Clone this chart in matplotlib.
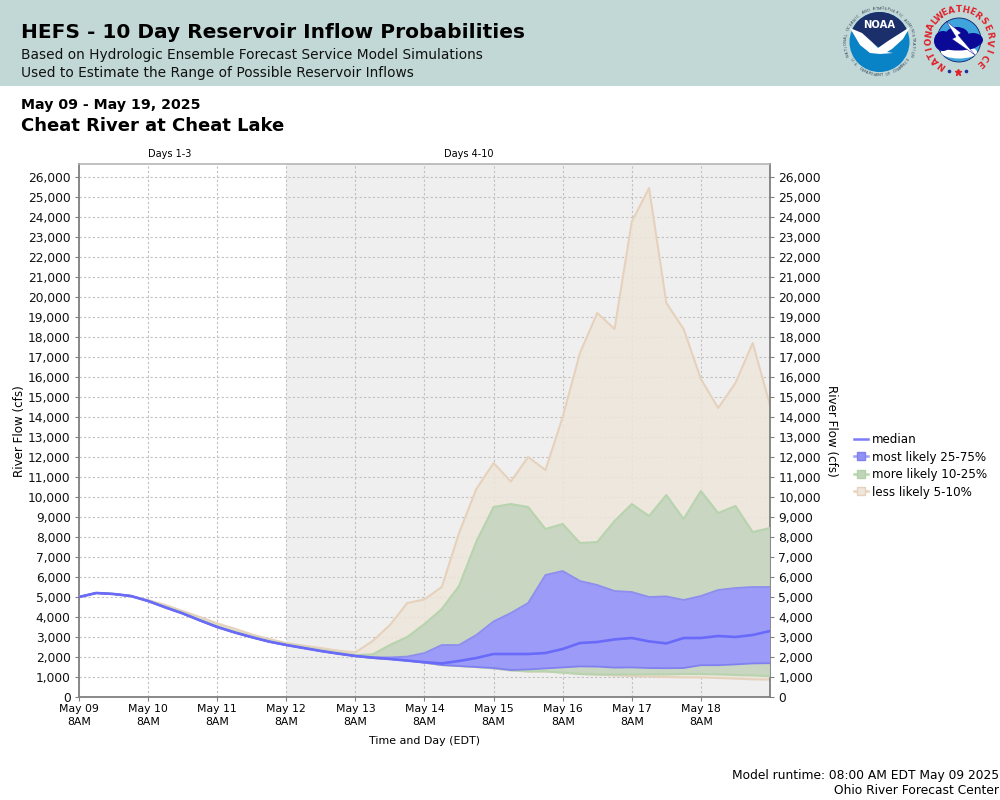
import numpy as np
import matplotlib
matplotlib.use("Agg")
import matplotlib.pyplot as plt
from matplotlib.lines import Line2D
from matplotlib.patches import Circle, Polygon, Rectangle, Ellipse

plt.rcParams['font.family'] = ['DejaVu Sans']

days = ["May 09", "May 10", "May 11", "May 12", "May 13", "May 14", "May 15", "May 16", "May 17", "May 18"]
hours = list(range(0, 241, 6))
yticks = list(range(0, 26001, 1000))

median = [5000, 5200, 5150, 5050, 4800, 4480, 4180, 3830, 3500, 3230, 2990, 2770, 2600, 2450, 2300, 2170, 2050,
          1970, 1900, 1820, 1740, 1680, 1720, 1820, 2150, 2150, 2150, 2200, 2400, 2700, 2750, 2880, 2950, 2780, 2680,
          2950, 2950, 3050, 3000, 3100, 3300]
median[22] = 1800
median[23] = 1950
q75 = median[:17] + [1980, 1980, 2020, 2200, 2600, 2600, 3100, 3780, 4200, 4700, 6100, 6300, 5800, 5600, 5300, 5250,
                     5000, 5030, 4850, 5050, 5350, 5450, 5500, 5500]
q25 = median[:17] + [1950, 1900, 1820, 1720, 1600, 1550, 1500, 1450, 1350, 1380, 1430, 1480, 1530, 1520, 1470, 1480,
                     1450, 1440, 1450, 1590, 1590, 1630, 1680, 1690]
q90 = [5000, 5200, 5150, 5050, 4820, 4520, 4220, 3880, 3550, 3280, 3030, 2810, 2630, 2490, 2350, 2220, 2100,
       2130, 2600, 3000, 3650, 4400, 5550, 7770, 9500, 9650, 9500, 8400, 8650, 7700, 7750, 8800, 9650, 9050, 10100,
       8900, 10300, 9200, 9550, 8250, 8450]
q10 = median[:17] + [1950, 1900, 1820, 1720, 1600, 1550, 1500, 1430, 1330, 1280, 1280, 1220, 1150, 1130, 1120, 1130,
                     1130, 1130, 1150, 1150, 1130, 1100, 1080, 1040]
q95 = [5000, 5200, 5150, 5050, 4850, 4600, 4300, 4000, 3680, 3420, 3130, 2900, 2700, 2570, 2450, 2320, 2230,
       2800, 3600, 4700, 4880, 5500, 8200, 10400, 11700, 10770, 12000, 11350, 14000, 17200, 19200, 18400, 23770, 25450,
       19700, 18400, 15900, 14450, 15700, 17700, 14600]
q05 = median[:17] + [1950, 1900, 1820, 1720, 1600, 1550, 1500, 1430, 1330, 1280, 1280, 1220, 1150, 1110, 1080, 1050,
                     1020, 1000, 980, 980, 950, 920, 880, 870]

W, H = 1000, 800
fig = plt.figure(figsize=(10, 8), dpi=100, facecolor='white')


def fx(px):
    return px / W


def fy(py):
    return 1 - py / H


# header band
fig.patches.append(Rectangle((0, fy(86)), 1, 86 / H, transform=fig.transFigure, fc='#C2D8D6', ec='none', zorder=-1))
fig.text(fx(21), fy(33), "HEFS - 10 Day Reservoir Inflow Probabilities", fontsize=14.5, fontweight='bold', va='center', color='black')
fig.text(fx(21), fy(54.5), "Based on Hydrologic Ensemble Forecast Service Model Simulations", fontsize=9.9, va='center', color='#111111')
fig.text(fx(21), fy(73), "Used to Estimate the Range of Possible Reservoir Inflows", fontsize=9.9, va='center', color='#111111')
fig.text(fx(21), fy(105.5), "May 09 - May 19, 2025", fontsize=10.15, fontweight='bold', va='center')
fig.text(fx(21), fy(126), "Cheat River at Cheat Lake", fontsize=12.95, fontweight='bold', va='center')
fig.text(fx(169.5), fy(154), "Days 1-3", fontsize=7.0, ha='center', va='center')
fig.text(fx(468.5), fy(154), "Days 4-10", fontsize=7.0, ha='center', va='center')

# main chart
ax = fig.add_axes([fx(79), fy(697), (770 - 79) / W, (697 - 164) / H])
ax.set_xlim(0, 240)
ax.set_ylim(0, 26650)
ax.axvspan(72, 240, color='#EFEFEF', lw=0, zorder=0)
ax.set_axisbelow(True)
ax.grid(True, color='#C0C0C0', ls=(0, (2, 2)), lw=0.8, zorder=1)

TAN, GREEN, BLUE = '#E6D2BC', '#B8D4AE', '#6C6CFF'
x = np.array(hours)
ax.fill_between(x, q05, q95, facecolor='#EEE6DB', alpha=0.88, lw=0, zorder=2)
ax.plot(x, q95, color=TAN, lw=1.5, zorder=2.1)
ax.plot(x, q05, color=TAN, lw=1.5, zorder=2.1)
ax.fill_between(x, q10, q90, facecolor='#C6D6C1', alpha=0.95, lw=0, zorder=3)
ax.plot(x, q90, color=GREEN, lw=1.5, zorder=3.1)
ax.plot(x, q10, color=GREEN, lw=1.5, zorder=3.1)
ax.fill_between(x, q25, q75, facecolor='#9C9CF8', alpha=1, lw=0, zorder=4)
ax.plot(x, q75, color='#8E8EEE', lw=1.3, zorder=4.1)
ax.plot(x, q25, color='#8080F0', lw=1.3, zorder=4.1)
ax.plot(x, median, color='#6A6AFA', lw=1.9, zorder=5)

ax.set_yticks(yticks)
ax.set_yticklabels([f"{v:,}" for v in yticks], fontsize=8.85, color='#111111')
ax.set_xticks(list(range(0, 240, 24)))
ax.set_xticklabels([f"{d}\n8AM" for d in days], fontsize=7.8, linespacing=1.35)
ax.tick_params(axis='y', length=3, width=0.8, color='#808080', pad=3)
ax.tick_params(axis='x', length=3, width=0.8, color='#808080', pad=2)
ax.set_xlabel("Time and Day (EDT)", fontsize=7.9, labelpad=0)
ax.xaxis.set_label_coords((425 - 79) / 691, -(736 - 697) / 533, transform=ax.transAxes)
ax.set_ylabel("River Flow (cfs)", fontsize=8.6)
ax.yaxis.set_label_coords((26 - 79) / 691, (697 - 431) / 533, transform=ax.transAxes)
for s in ('left', 'right', 'bottom'):
    ax.spines[s].set_color('#808080')
    ax.spines[s].set_linewidth(1.3)
ax.spines['top'].set_color('#B0B0B0')
ax.spines['top'].set_linewidth(1.1)

ax2 = ax.twinx()
ax2.set_ylim(ax.get_ylim())
ax2.set_yticks(yticks)
ax2.set_yticklabels([f"{v:,}" for v in yticks], fontsize=8.85, color='#111111')
ax2.tick_params(axis='y', length=3, width=0.8, color='#808080', pad=3)
ax2.set_ylabel("River Flow (cfs)", fontsize=8.6, rotation=270, labelpad=0)
ax2.yaxis.set_label_coords((838 - 79) / 691, (697 - 431) / 533, transform=ax.transAxes)
for s in ax2.spines.values():
    s.set_visible(False)

handles = [
    Line2D([], [], color='#7C7CFA', lw=1.8),
    Line2D([], [], color='#A0A0FA', lw=1.8, marker='s', ms=6, mfc='#9090F4', mec='#8080F0'),
    Line2D([], [], color='#B8D8AE', lw=1.8, marker='s', ms=6, mfc='#BFD6B6', mec='#B4D0AA'),
    Line2D([], [], color='#E8D4BE', lw=1.8, marker='s', ms=6, mfc='#F0E6DA', mec='#E6D2BC'),
]
fig.legend(handles, ["median", "most likely 25-75%", "more likely 10-25%", "less likely 5-10%"],
           loc='upper left', bbox_to_anchor=(fx(854), fy(433)), frameon=False, fontsize=8.6,
           handlelength=1.2, handletextpad=0.33, labelspacing=0.38, borderpad=0, borderaxespad=0)

fig.text(fx(999), fy(775.5), "Model runtime: 08:00 AM EDT May 09 2025", fontsize=8.8, ha='right', va='center')
fig.text(fx(999), fy(791), "Ohio River Forecast Center", fontsize=8.8, ha='right', va='center')

# logos, drawn on an overlay in pixel coordinates
lg = fig.add_axes([0, 0, 1, 1], facecolor='none', zorder=5)
lg.set_xlim(0, W)
lg.set_ylim(H, 0)
lg.axis('off')


def ring(text, cx, cy, r, start, end, flip=False, **kw):
    angs = np.linspace(start, end, len(text))
    for ch, a in zip(text, angs):
        t = np.radians(a)
        rot = 180 - a if flip else -a
        lg.text(cx + r * np.sin(t), cy - r * np.cos(t), ch, rotation=rot, rotation_mode='anchor',
                ha='center', va='center', **kw)


# NOAA
cx, cy = 879.5, 42
disc = Circle((cx, cy), 30, fc='#0A82C6', ec='none')
lg.add_patch(disc)
cap = Polygon([(848, 8), (912, 8), (912, 27), (880, 48), (848, 27)], fc='#1B2F6B', ec='none')
lg.add_patch(cap)
cap.set_clip_path(disc)
bird = Polygon([(850, 28), (862, 33), (872, 42), (878, 48), (888, 41), (899, 34), (910, 27),
                (903, 39), (892, 49), (887, 52), (893, 53), (880, 54), (870, 53), (860, 45)], fc='white', ec='none')
lg.add_patch(bird)
lg.text(879, 25, "NOAA", color='white', fontsize=7.2, fontweight='bold', ha='center', va='center')
ring("NATIONAL OCEANIC AND ATMOSPHERIC ADMINISTRATION", cx, cy, 33.5, -112, 112, fontsize=2.7, color='#33445A')
ring("U.S. DEPARTMENT OF COMMERCE", cx, cy, 33.5, 238, 122, flip=True, fontsize=2.7, color='#33445A')

# NWS
nx, ny = 959, 40
lg.add_patch(Circle((nx, ny), 22, fc='#3FA3DC', ec='#10206A', lw=0.6))
lg.add_patch(Ellipse((nx, 52), 36, 13, fc='white', ec='none'))
for ex, ey, w_, h_ in [(943, 41, 18, 20), (957, 36, 24, 18), (973, 40, 20, 14), (958, 45, 40, 11)]:
    lg.add_patch(Ellipse((ex, ey), w_, h_, fc='#0A0A96', ec='none'))
lg.add_patch(Polygon([(946, 21), (961, 33), (958, 35), (975, 55), (952, 39), (956, 37)], fc='white', ec='#0A0A96', lw=0.3))
ring("NATIONAL", nx, ny, 30.5, -145, -52, fontsize=6.3, fontweight='bold', color='#E0202A')
ring("WEATHER", nx, ny, 30.5, -40, 38, fontsize=6.3, fontweight='bold', color='#E0202A')
ring("SERVICE", nx, ny, 30.5, 52, 138, fontsize=6.3, fontweight='bold', color='#E0202A')
lg.plot([949, 966], [71, 71], ls='none', marker='o', ms=1.6, color='#2030A0')
lg.plot([958], [72], ls='none', marker='*', ms=5, color='#E0202A')

fig.savefig("out.png", dpi=100)
